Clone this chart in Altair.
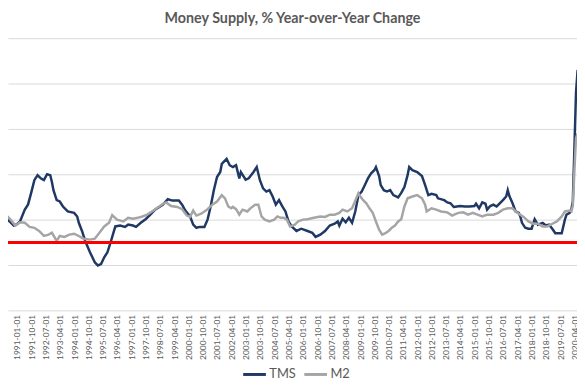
import altair as alt
import pandas as pd

title_text = "Money Supply, % Year-over-Year Change"
series_names = ["TMS", "M2"]
series_colors = ["#1f3864", "#a5a5a5"]
zero_color = "#ff0000"
y_grid_values = [-15, -5, 5, 15, 25, 35, 45]

tick_dates = [
    "1990-04-01", "1991-01-01", "1991-10-01", "1992-07-01", "1993-04-01", "1994-01-01",
    "1994-10-01", "1995-07-01", "1996-04-01", "1997-01-01", "1997-10-01", "1998-07-01",
    "1999-04-01", "2000-01-01", "2000-10-01", "2001-07-01", "2002-04-01", "2003-01-01",
    "2003-10-01", "2004-07-01", "2005-04-01", "2006-01-01", "2006-10-01", "2007-07-01",
    "2008-04-01", "2009-01-01", "2009-10-01", "2010-07-01", "2011-04-01", "2012-01-01",
    "2012-10-01", "2013-07-01", "2014-04-01", "2015-01-01", "2015-10-01", "2016-07-01",
    "2017-04-01", "2018-01-01", "2018-10-01", "2019-07-01", "2020-04-01",
]

tms_months = [
    "1990-01", "1990-03", "1990-05", "1990-07", "1990-09", "1990-11", "1991-01", "1991-03",
    "1991-06", "1991-08", "1991-10", "1991-12", "1992-02", "1992-04", "1992-06", "1992-08",
    "1992-10", "1992-11", "1992-12", "1993-02", "1993-04", "1993-06", "1993-09", "1994-01",
    "1994-03", "1994-04", "1994-06", "1994-08", "1994-11", "1995-02", "1995-04", "1995-06",
    "1995-08", "1995-10", "1995-12", "1996-01", "1996-03", "1996-06", "1996-09", "1996-11",
    "1997-02", "1997-04", "1997-07", "1997-10", "1998-01", "1998-04", "1998-09", "1998-12",
    "1999-03", "1999-07", "1999-09", "1999-11", "2000-02", "2000-04", "2000-06", "2000-08",
    "2000-11", "2001-01", "2001-03", "2001-05", "2001-07", "2001-09", "2001-10", "2002-01",
    "2002-03", "2002-05", "2002-07", "2002-09", "2002-10", "2003-01", "2003-03", "2003-06",
    "2003-08", "2003-10", "2003-12", "2004-02", "2004-04", "2004-06", "2004-08", "2004-10",
    "2004-12", "2005-02", "2005-04", "2005-06", "2005-09", "2005-12", "2006-04", "2006-07",
    "2006-09", "2006-12", "2007-03", "2007-06", "2007-09", "2007-11", "2007-12", "2008-02",
    "2008-04", "2008-06", "2008-08", "2008-10", "2008-12", "2009-02", "2009-04", "2009-06",
    "2009-08", "2009-10", "2009-11", "2010-01", "2010-02", "2010-04", "2010-06", "2010-08",
    "2010-10", "2011-01", "2011-03", "2011-05", "2011-07", "2011-08", "2011-10", "2012-01",
    "2012-04", "2012-06", "2012-08", "2012-10", "2013-01", "2013-02", "2013-06", "2013-08",
    "2013-10", "2013-12", "2014-02", "2014-04", "2014-07", "2014-10", "2015-01", "2015-02",
    "2015-04", "2015-06", "2015-08", "2015-09", "2015-11", "2016-01", "2016-03", "2016-05",
    "2016-07", "2016-09", "2016-10", "2016-11", "2017-01", "2017-03", "2017-05", "2017-06",
    "2017-07", "2017-09", "2017-11", "2018-01", "2018-03", "2018-05", "2018-08", "2018-10",
    "2018-12", "2019-02", "2019-04", "2019-06", "2019-08", "2019-10", "2019-11", "2020-01",
    "2020-02", "2020-03", "2020-04", "2020-05", "2020-06",
]
tms_values = [
    2.5, 4.8, 5.4, 5.0, 4.4, 3.7, 4.0, 4.6,
    7.2, 8.3, 10.9, 13.7, 14.8, 14.1, 13.7, 15.0,
    14.8, 13.3, 11.5, 9.3, 9.0, 7.9, 6.8, 6.5,
    5.7, 4.3, 2.5, 0.3, -2.2, -4.4, -5.1, -4.8,
    -3.3, -2.2, 0.0, 1.2, 3.5, 3.7, 3.4, 3.9,
    3.7, 3.4, 4.3, 5.1, 6.1, 7.2, 8.3, 9.5,
    9.2, 9.2, 8.3, 7.0, 5.7, 3.9, 3.2, 3.4,
    3.4, 5.0, 7.9, 11.5, 14.4, 15.5, 17.3, 18.4,
    17.0, 16.6, 17.0, 14.1, 15.5, 13.8, 14.1, 15.5,
    16.6, 13.7, 11.9, 11.2, 11.5, 10.1, 8.3, 9.3,
    8.0, 6.8, 4.6, 3.5, 2.5, 3.0, 2.5, 2.1,
    1.2, 1.7, 2.5, 3.7, 4.1, 4.6, 3.7, 5.2,
    4.4, 5.4, 4.3, 6.8, 10.4, 11.2, 12.6, 14.1,
    15.2, 15.9, 16.6, 14.6, 12.6, 11.5, 11.2, 11.5,
    10.4, 9.9, 10.9, 12.2, 14.8, 16.6, 15.9, 15.5,
    14.6, 12.6, 10.4, 10.7, 10.4, 9.7, 9.3, 8.8,
    8.6, 7.8, 7.9, 8.0, 7.9, 7.9, 8.0, 8.5,
    7.5, 8.8, 8.5, 7.2, 8.0, 8.3, 7.9, 8.6,
    9.3, 10.1, 11.5, 10.2, 8.6, 6.8, 6.5, 5.6,
    4.3, 3.2, 3.0, 3.0, 5.1, 3.9, 4.3, 3.7,
    3.9, 3.0, 2.0, 2.0, 2.0, 5.0, 6.1, 6.5,
    7.2, 9.0, 21.0, 33.0, 38.0,
]

m2_months = [
    "1990-01", "1990-02", "1990-06", "1990-09", "1990-12", "1991-03", "1991-06", "1991-09",
    "1991-12", "1992-03", "1992-06", "1992-09", "1992-11", "1993-02", "1993-04", "1993-07",
    "1993-10", "1994-01", "1994-04", "1994-07", "1994-11", "1995-02", "1995-05", "1995-08",
    "1995-11", "1996-01", "1996-04", "1996-08", "1996-11", "1997-02", "1997-05", "1997-08",
    "1997-11", "1998-02", "1998-05", "1998-09", "1998-11", "1999-02", "1999-06", "1999-09",
    "1999-12", "2000-02", "2000-04", "2000-06", "2000-09", "2001-01", "2001-04", "2001-07",
    "2001-10", "2001-12", "2002-02", "2002-04", "2002-05", "2002-07", "2002-09", "2002-11",
    "2003-02", "2003-04", "2003-07", "2003-09", "2003-11", "2004-01", "2004-04", "2004-07",
    "2004-09", "2004-11", "2005-01", "2005-03", "2005-05", "2005-08", "2005-10", "2006-01",
    "2006-04", "2006-08", "2006-12", "2007-03", "2007-06", "2007-09", "2007-12", "2008-02",
    "2008-05", "2008-08", "2008-12", "2009-01", "2009-03", "2009-05", "2009-07", "2009-09",
    "2009-11", "2010-01", "2010-03", "2010-05", "2010-07", "2010-09", "2010-11", "2011-01",
    "2011-03", "2011-05", "2011-07", "2011-10", "2012-01", "2012-04", "2012-06", "2012-07",
    "2012-10", "2013-01", "2013-04", "2013-08", "2013-11", "2014-01", "2014-03", "2014-06",
    "2014-09", "2014-12", "2015-03", "2015-06", "2015-09", "2016-01", "2016-04", "2016-07",
    "2016-10", "2017-01", "2017-03", "2017-05", "2017-08", "2017-11", "2018-02", "2018-05",
    "2018-08", "2018-11", "2019-02", "2019-05", "2019-08", "2019-10", "2020-01", "2020-02",
    "2020-03", "2020-04", "2020-05", "2020-06",
]
m2_values = [
    7.0, 6.8, 6.1, 5.0, 3.7, 4.4, 4.3, 3.4,
    3.2, 2.5, 1.4, 1.7, 2.1, 0.3, 1.4, 1.2,
    1.7, 1.9, 1.4, 0.8, 0.6, 0.8, 2.1, 3.5,
    4.3, 6.0, 5.0, 4.6, 5.4, 5.2, 5.4, 5.7,
    6.1, 6.8, 7.5, 8.5, 8.8, 8.0, 7.8, 7.3,
    5.9, 5.6, 7.0, 5.9, 6.3, 7.3, 8.3, 9.0,
    10.4, 9.7, 7.9, 7.5, 7.8, 7.3, 6.1, 7.2,
    6.8, 7.5, 8.3, 8.3, 5.7, 5.0, 4.6, 5.0,
    5.7, 5.4, 5.4, 5.0, 3.5, 3.9, 4.6, 5.0,
    5.1, 5.4, 5.7, 5.6, 6.1, 6.1, 6.5, 7.2,
    6.8, 7.5, 10.8, 10.2, 9.3, 8.6, 7.5, 6.5,
    4.6, 2.8, 1.7, 2.0, 2.5, 3.2, 3.7, 4.6,
    5.1, 7.9, 9.7, 10.1, 10.4, 9.7, 8.3, 6.8,
    7.5, 7.2, 6.8, 6.6, 5.9, 6.2, 6.5, 6.6,
    6.1, 6.5, 6.1, 5.7, 6.1, 6.1, 6.5, 7.2,
    7.5, 7.5, 6.8, 6.3, 5.6, 4.6, 4.1, 4.1,
    3.5, 3.5, 4.1, 4.6, 5.7, 6.8, 7.0, 6.8,
    8.0, 16.0, 23.0, 24.0,
]

rows = []
for m, v in zip(tms_months, tms_values):
    rows.append({"date": m + "-01", "value": v, "series": "TMS"})
for m, v in zip(m2_months, m2_values):
    rows.append({"date": m + "-01", "value": v, "series": "M2"})
df = pd.DataFrame(rows)


def dt(s):
    return alt.DateTime(year=int(s[0:4]), month=int(s[5:7]), date=int(s[8:10]), utc=True)


x_scale = alt.Scale(type="utc", domain=[dt("1990-07-14"), dt("2020-05-20")])
y_scale = alt.Scale(domain=[-15, 45], nice=False, zero=False)

x_axis = alt.Axis(
    values=[dt(s) for s in tick_dates],
    format="%Y-%m-%d",
    labelAngle=270,
    labelFont="Lato",
    labelFontSize=8.5,
    labelColor="#595959",
    labelPadding=4,
    labelOverlap=False,
    labelBound=False,
    labelFlush=False,
    grid=False,
    domain=False,
    ticks=False,
    title=None,
)
y_axis = alt.Axis(
    values=y_grid_values,
    grid=True,
    gridColor="#d9d9d9",
    gridWidth=1,
    labels=False,
    ticks=False,
    domain=False,
    title=None,
)

lines = alt.Chart(df).mark_line(strokeWidth=2.5, clip=True).encode(
    x=alt.X("date:T", scale=x_scale, axis=x_axis),
    y=alt.Y("value:Q", scale=y_scale, axis=y_axis),
    color=alt.Color(
        "series:N",
        scale=alt.Scale(domain=series_names, range=series_colors),
        legend=alt.Legend(
            orient="none",
            legendX=237,
            legendY=328,
            direction="horizontal",
            title=None,
            symbolType="stroke",
            symbolSize=529,
            symbolStrokeWidth=3,
            labelFont="Lato",
            labelFontSize=13,
            labelColor="#595959",
            columnPadding=2,
            labelOffset=2,
        ),
    ),
    detail="series:N",
)

zero = alt.Chart(df).mark_rule(color=zero_color, strokeWidth=2).encode(
    y=alt.datum(0, scale=y_scale)
)

chart = alt.layer(lines, zero).properties(
    width=577,
    height=276,
    autosize=alt.AutoSizeParams(type="none"),
    padding={"left": 0, "top": 28, "right": 0, "bottom": 68},
    title=alt.Title(
        title_text,
        font="Lato",
        fontSize=14.5,
        fontWeight="bold",
        color="#595959",
        anchor="middle",
        frame="group",
        baseline="bottom",
        offset=0,
        dy=2,
    ),
).configure_view(strokeWidth=0)

chart.save("out.html", embed_options={"renderer": "svg", "actions": False})
